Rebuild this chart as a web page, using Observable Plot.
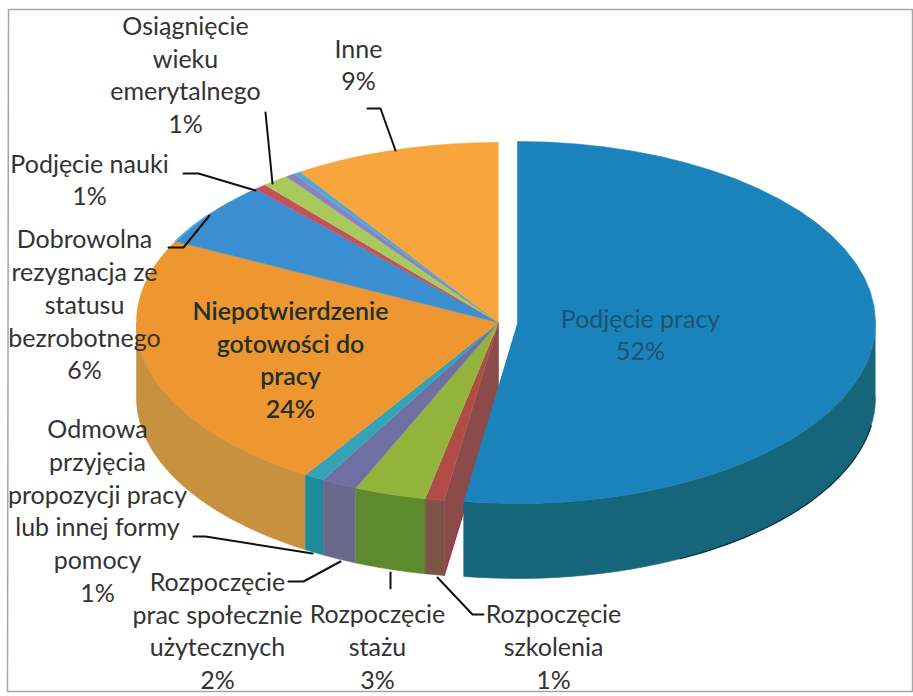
<!DOCTYPE html>
<html><head><meta charset="utf-8">
<script src="https://cdn.jsdelivr.net/npm/d3@7"></script>
<script src="https://cdn.jsdelivr.net/npm/@observablehq/plot@0.6"></script>
<style>html,body{margin:0;padding:0;background:#fff}svg{display:block}</style>
</head><body><div id="chart"></div>
<script>
// labelled categories (as printed on the chart)
const outerCategories = [
 "Osiągnięcie\nwieku\nemerytalnego","Inne","Podjęcie nauki",
 "Dobrowolna\nrezygnacja ze\nstatusu\nbezrobotnego",
 "Odmowa\nprzyjęcia\npropozycji pracy\nlub innej formy\npomocy",
 "Rozpoczęcie\nprac społecznie\nużytecznych","Rozpoczęcie\nstażu","Rozpoczęcie\nszkolenia"];
const outerPercents = [1,9,1,6,1,2,3,1];
const innerCategories = ["Niepotwierdzenie\ngotowości do\npracy","Podjęcie pracy"];
const innerPercents = [24,52];
// slice shares, clockwise from 12 o'clock:
// praca, szkolenie, staż, prace społ., odmowa, niepotwierdzenie, rezygnacja, nauka, wiek, (two slivers), inne
const shares = [52.4,0.85,3.2,1.6,0.9,23.5,5.85,0.55,1.2,0.4,0.33,9.22];

// layout
const W = 913, H = 696;
const labelX = [185,358,89,84,97,217,377,553];
const labelY = [73,63,178,303,509,629,645,645];
const innerX = [290,640], innerY = [358,333];
const leaders = [
 [[367,108],[380,108],[395,150]],
 [[265,112],[272,183]],
 [[183,173],[198,173],[255,190]],
 [[168,247],[183,247],[209,215]],
 [[193,536],[205,536],[312,553]],
 [[288,581],[303,581],[340,561]],
 [[390,572],[390,588]],
 [[437,577],[472,614],[483,614]]
];
const frame = [[8,9],[912,9],[912,691],[7,691],[8,9]];
const topColors  = ["#1a83bb","#b04c45","#93b43c","#6f6fa3","#36a2b8","#ee962f","#3b8fd0","#c5515c","#a8c95c","#8a80c2","#55a9d0","#f9a53d"];
const sideColors = ["#15667a","#7c5548","#5e8a2e","#69698c","#1d8b9c","#c8913f"];
const wallColor = "#8a4b4a";

const rest = {cx:498, cy:322, rx:362, ry:180};
const lead = {cx:517, cy:322, rx:358, ry:181};
const depth = 75;

let cum = 0;
const arcs = shares.map(s => { const a0 = cum/100*2*Math.PI; cum += s; return [a0, cum/100*2*Math.PI]; });
const rim = (p,a,d=0) => ({x:p.cx+p.rx*Math.sin(a), y:p.cy-p.ry*Math.cos(a)+d});
const arcPts = (p,a0,a1,d=0) => d3.range(0,41).map(i => rim(p,a0+(a1-a0)*i/40,d));
const topFace = (p,i) => [{x:p.cx,y:p.cy},...arcPts(p,...arcs[i])];
const sideFace = (p,a0,a1) => [...arcPts(p,a0,a1),...arcPts(p,a0,a1,depth).reverse()];
const poly = (pts,c) => Plot.line(pts,{x:"x",y:"y",fill:c,stroke:c,strokeWidth:0.6});
const edge = (pts,c,w=1) => Plot.line(pts,{x:"x",y:"y",stroke:c,strokeWidth:w});

const marks = [];
[5,4,3,2,1].forEach(i => {
  const [a0,a1] = arcs[i];
  marks.push(poly(sideFace(rest,a0,Math.min(a1,1.5*Math.PI)), sideColors[i]));
});
const e = rim(rest,arcs[1][0]);
marks.push(poly([{x:rest.cx,y:rest.cy},{x:rest.cx,y:rest.cy+depth},{x:e.x,y:e.y+depth},e],wallColor));
marks.push(edge([{x:rest.cx,y:rest.cy+depth},{x:e.x,y:e.y+depth}],"#a8323c",1.2));
d3.range(1,12).forEach(i => marks.push(poly(topFace(rest,i),topColors[i])));
// light rim of the rezygnacja slice
marks.push(edge(arcPts(rest,arcs[6][0],arcs[6][0]+(arcs[6][1]-arcs[6][0])*0.45),"#5fb4e6",1.5));
// lifted slice
marks.push(poly(sideFace(lead,Math.PI/2,arcs[0][1]),sideColors[0]));
marks.push(edge(arcPts(lead,Math.PI*0.55,Math.PI*0.85,depth),"#0d2a33",1.2));
marks.push(poly(topFace(lead,0),topColors[0]));

const withPct = (names,pcts) => names.map((n,i)=>`${n}\n${pcts[i]}%`);
const textOpts = {text:d=>d,fontFamily:"Lato",fontSize:25,lineHeight:1.31,textAnchor:"middle"};

const chart = Plot.plot({
  width:W,height:H,margin:0,
  x:{domain:[0,W],range:[0,W],axis:null},
  y:{domain:[0,H],range:[0,H],axis:null},
  style:{background:"#fff"},
  marks:[
    Plot.line(frame.map(([x,y])=>({x,y})),{x:"x",y:"y",stroke:"#a5a5a5",strokeWidth:1.5}),
    ...marks,
    ...leaders.map(l=>Plot.line(l.map(([x,y])=>({x,y})),{x:"x",y:"y",stroke:"#111",strokeWidth:2})),
    Plot.text(withPct(outerCategories,outerPercents),{...textOpts,x:labelX,y:labelY,fill:"#333"}),
    Plot.text(withPct(innerCategories,innerPercents).slice(0,1),{...textOpts,x:innerX.slice(0,1),y:innerY.slice(0,1),fill:"#22302a",fontWeight:600}),
    Plot.text(withPct(innerCategories,innerPercents).slice(1),{...textOpts,x:innerX.slice(1),y:innerY.slice(1),fill:"#1c5470"})
  ]
});
document.getElementById("chart").append(chart);
</script></body></html>
